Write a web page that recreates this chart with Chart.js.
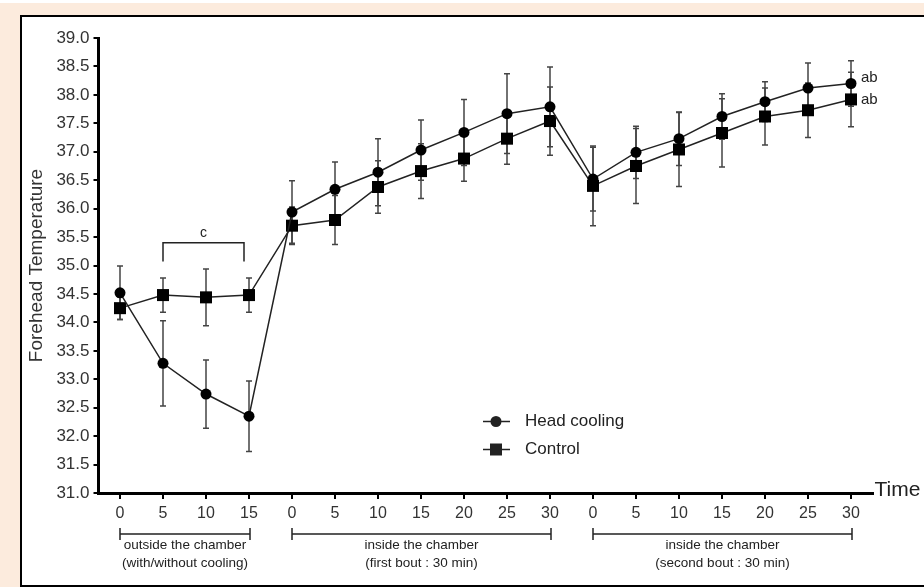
<!DOCTYPE html>
<html>
<head>
<meta charset="utf-8">
<title>Forehead Temperature</title>
<script src="https://cdn.jsdelivr.net/npm/chart.js@4.4.0/dist/chart.umd.min.js"></script>
<style>
  body { margin: 0; width: 924px; height: 587px; overflow: hidden; background: #fff; position: relative; }
  #bg { position: absolute; left: 0; top: 3px; width: 924px; height: 584px; background: #fcebdd; }
  #panel { position: absolute; left: 20px; top: 15px; width: 920px; height: 568px; background: #fff; border: 2px solid #000; }
  #chart { position: absolute; left: 0; top: 0; }
</style>
</head>
<body>
<div id="bg"></div>
<div id="panel"></div>
<canvas id="chart" width="924" height="587"></canvas>
<script>
// Time points (min) - three phases share one axis
const timeLabels = ['0', '5', '10', '15', '0', '5', '10', '15', '20', '25', '30', '0', '5', '10', '15', '20', '25', '30'];

// Mean forehead temperature and error (SD) per time point
const headCooling = [34.52, 33.28, 32.74, 32.35, 35.94, 36.34, 36.64, 37.03, 37.34, 37.67, 37.79, 36.52, 36.99, 37.23, 37.62, 37.88, 38.12, 38.2];
const headCoolingErr = [0.47, 0.75, 0.6, 0.62, 0.55, 0.48, 0.59, 0.53, 0.58, 0.7, 0.7, 0.56, 0.46, 0.47, 0.4, 0.35, 0.44, 0.4];
const control = [34.25, 34.48, 34.44, 34.48, 35.7, 35.8, 36.38, 36.66, 36.88, 37.23, 37.54, 36.4, 36.75, 37.04, 37.33, 37.62, 37.73, 37.92];
const controlErr = [0.2, 0.3, 0.5, 0.3, 0.33, 0.43, 0.46, 0.48, 0.4, 0.45, 0.6, 0.7, 0.66, 0.65, 0.6, 0.5, 0.48, 0.48];

// Phase brackets under the axis
const phaseRanges = [[0, 3], [4, 10], [11, 17]];
const phaseText = [
    ['outside the chamber', '(with/without cooling)'],
    ['inside the chamber', '(first bout : 30 min)'],
    ['inside the chamber', '(second bout : 30 min)']
];

const FONT = 'Arial, "Liberation Sans", sans-serif';
const INK = '#222';

// Draws vertical error bars with small caps, under the markers
const errorBars = {
    id: 'errorBars',
    beforeDatasetsDraw(chart) {
        const { ctx, scales: { x, y } } = chart;
        ctx.save();
        ctx.strokeStyle = '#444';
        ctx.lineWidth = 1.5;
        chart.data.datasets.forEach(ds => {
            ds.data.forEach((v, i) => {
                const e = ds.err[i];
                const px = x.getPixelForValue(i);
                const top = y.getPixelForValue(v + e);
                const bot = y.getPixelForValue(v - e);
                ctx.beginPath();
                ctx.moveTo(px, top); ctx.lineTo(px, bot);
                ctx.moveTo(px - 3, top); ctx.lineTo(px + 3, top);
                ctx.moveTo(px - 3, bot); ctx.lineTo(px + 3, bot);
                ctx.stroke();
            });
        });
        ctx.restore();
    }
};

function drawMarker(ctx, style, cx, cy) {
    ctx.beginPath();
    if (style === 'rect') {
        ctx.rect(cx - 6, cy - 6, 12, 12);
    } else {
        ctx.arc(cx, cy, 5.5, 0, Math.PI * 2);
    }
    ctx.fill();
}

// Phase brackets, significance marks, "Time" label and the legend
const annotations = {
    id: 'annotations',
    afterDraw(chart) {
        const { ctx, scales: { x, y }, chartArea } = chart;
        ctx.save();
        ctx.strokeStyle = INK;
        ctx.fillStyle = INK;
        ctx.lineWidth = 1.5;

        // phase brackets
        phaseRanges.forEach((r, k) => {
            const x1 = x.getPixelForValue(r[0]);
            const x2 = x.getPixelForValue(r[1]) + 1;
            const by = chartArea.bottom + 41;
            ctx.beginPath();
            ctx.moveTo(x1, by - 6); ctx.lineTo(x1, by + 6);
            ctx.moveTo(x2, by - 6); ctx.lineTo(x2, by + 6);
            ctx.moveTo(x1, by); ctx.lineTo(x2, by);
            ctx.stroke();
            ctx.font = '13.5px ' + FONT;
            ctx.textAlign = 'center';
            ctx.textBaseline = 'middle';
            const cx = (x1 + x2) / 2;
            ctx.fillText(phaseText[k][0], cx, by + 11);
            ctx.fillText(phaseText[k][1], cx, by + 29);
        });

        // "c" bracket over control, outside-chamber phase
        const cx1 = x.getPixelForValue(1);
        const cx2 = x.getPixelForValue(3) - 5;
        const cTop = y.getPixelForValue(35.4);
        const cBot = y.getPixelForValue(35.07);
        ctx.beginPath();
        ctx.moveTo(cx1, cBot); ctx.lineTo(cx1, cTop); ctx.lineTo(cx2, cTop); ctx.lineTo(cx2, cBot);
        ctx.stroke();
        ctx.font = '14px ' + FONT;
        ctx.textAlign = 'center';
        ctx.textBaseline = 'alphabetic';
        ctx.fillText('c', (cx1 + cx2) / 2, cTop - 6);

        // "ab" at the last points
        const last = timeLabels.length - 1;
        ctx.font = '15px ' + FONT;
        ctx.textAlign = 'left';
        ctx.textBaseline = 'middle';
        ctx.fillText('ab', x.getPixelForValue(last) + 10, y.getPixelForValue(headCooling[last]) - 6);
        ctx.fillText('ab', x.getPixelForValue(last) + 10, y.getPixelForValue(control[last]));

        // axis name at the end of the x axis
        ctx.font = '21px ' + FONT;
        ctx.fillText('Time', chartArea.right + 2, chartArea.bottom - 3);

        // legend
        chart.data.datasets.forEach((ds, k) => {
            const ly = 421.5 + k * 28;
            ctx.beginPath();
            ctx.moveTo(483, ly); ctx.lineTo(510, ly);
            ctx.stroke();
            drawMarker(ctx, ds.pointStyle, 496, ly);
            ctx.font = '17px ' + FONT;
            ctx.fillText(ds.label, 525, ly);
        });
        ctx.restore();
    }
};

const ctx = document.getElementById('chart').getContext('2d');

new Chart(ctx, {
    type: 'line',
    data: {
        labels: timeLabels,
        datasets: [{
            label: 'Head cooling',
            data: headCooling,
            err: headCoolingErr,
            borderColor: INK,
            backgroundColor: '#000',
            borderWidth: 1.5,
            pointStyle: 'circle',
            pointRadius: 5.5,
            pointBorderWidth: 0,
            tension: 0
        }, {
            label: 'Control',
            data: control,
            err: controlErr,
            borderColor: INK,
            backgroundColor: '#000',
            borderWidth: 1.5,
            pointStyle: 'rect',
            pointRadius: 8.5,
            pointBorderWidth: 0,
            tension: 0
        }]
    },
    options: {
        responsive: false,
        animation: false,
        layout: { padding: { left: 0, top: 38, right: 51.5, bottom: 0 } },
        plugins: {
            legend: { display: false },
            tooltip: { enabled: false }
        },
        scales: {
            x: {
                type: 'category',
                offset: true,
                afterFit: s => { s.height = 94; },
                grid: { drawOnChartArea: false, drawTicks: true, tickLength: 6, tickColor: '#000', lineWidth: 2, offset: false },
                border: { display: true, color: '#000', width: 3 },
                ticks: { color: '#333', padding: 5, font: { family: FONT, size: 16 }, autoSkip: false, maxRotation: 0 }
            },
            y: {
                min: 31,
                max: 39,
                afterFit: s => { s.width = 98.5; },
                grid: { drawOnChartArea: false, drawTicks: true, tickLength: 5, tickColor: '#000', lineWidth: 2 },
                border: { display: true, color: '#000', width: 3 },
                ticks: { stepSize: 0.5, color: '#333', padding: 4, font: { family: FONT, size: 17 }, callback: v => v.toFixed(1) },
                title: { display: true, text: 'Forehead Temperature', color: '#333', font: { family: FONT, size: 19 }, padding: { top: 25 } }
            }
        }
    },
    plugins: [errorBars, annotations]
});
</script>
</body>
</html>
